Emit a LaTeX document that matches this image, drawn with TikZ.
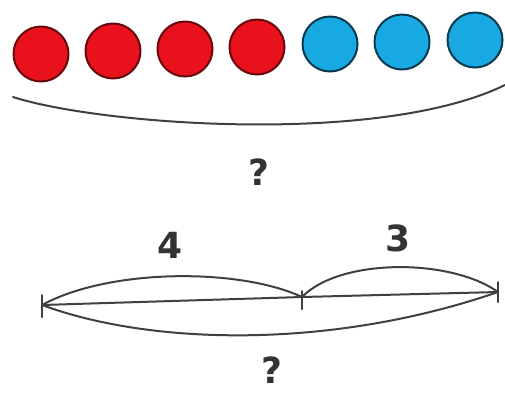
\documentclass[tikz,border=0pt]{standalone}
\usepackage{fontspec}
\setmainfont{DejaVu Sans}
\usetikzlibrary{calc}
\definecolor{BallRed}{HTML}{E8111C}
\definecolor{BallBlue}{HTML}{19A9E2}
\begin{document}
\begin{tikzpicture}[x=1pt,y=-1pt,line cap=round,line join=round,
  ball/.style={circle,minimum size=55pt,inner sep=0pt,line width=2pt},
  redball/.style={ball,fill=BallRed,draw=BallRed!45!black},
  blueball/.style={ball,fill=BallBlue,draw=BallBlue!35!black},
  arc/.style={line width=2pt,black!75},
  lbl/.style={font=\bfseries\fontsize{36}{36}\selectfont,text=black!80}]
  \useasboundingbox (0,0) rectangle (505,392);
  \node[redball] (r1) at (41,54) {}; \node[redball] (r2) at (113,51) {}; \node[redball] (r3) at (185,49) {}; \node[redball] (r4) at (257,47) {};
  \node[blueball] (b1) at (330,44) {}; \node[blueball] (b2) at (402,42) {}; \node[blueball] (b3) at (475,40) {};
  \coordinate (T0) at (13,97); \coordinate (T1) at (505,85);
  \draw[arc] (T0) .. controls (100,125) and (380,146) .. (T1);
  \node[lbl] (q1) at (259,172) {?};
  % number line
  \coordinate (L) at (42,305); \coordinate (M) at (302,297); \coordinate (R) at (498,292);
  \draw[arc] (L) -- (M) -- (R);
  \draw[arc] (L) .. controls (110,268) and (240,268) .. (M);
  \draw[arc] (M) .. controls (340,258) and (450,258) .. (R);
  \draw[arc] (L) .. controls (150,345) and (330,350) .. (R);
  \draw[arc] ($(L)+(0,-10)$) -- ($(L)+(0,12)$); \draw[arc] ($(M)+(0,-6)$) -- ($(M)+(0,12)$); \draw[arc] ($(R)+(0,-10)$) -- ($(R)+(0,10)$);
  \node[lbl] (n4) at (170,245) {4}; \node[lbl] (n3) at (398,238) {3};
  \node[lbl] (q2) at (272,370) {?};
\end{tikzpicture}
\end{document}
